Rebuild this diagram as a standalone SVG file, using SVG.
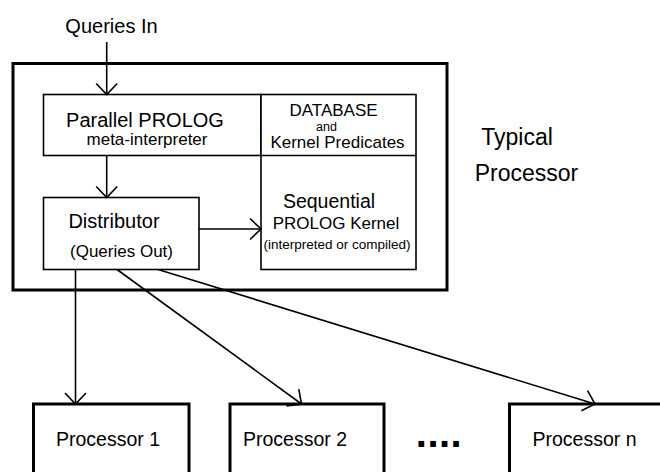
<svg xmlns="http://www.w3.org/2000/svg" width="660" height="472" viewBox="0 0 660 472">
  <style>
    text { font-family: "Liberation Sans", Arial, sans-serif; fill: #000; text-anchor: middle; }
    .box { fill: #fff; stroke: #000; stroke-width: 1.6; }
    .frame { fill: none; stroke: #000; stroke-width: 3; }
    .proc { fill: #fff; stroke: #000; stroke-width: 3; }
    .conn { fill: none; stroke: #000; stroke-width: 1.6; marker-end: url(#arrow); }
  </style>
  <defs>
    <marker id="arrow" markerUnits="userSpaceOnUse" markerWidth="24" markerHeight="24" viewBox="-13 -12 14 24" refX="0" refY="0" orient="auto">
      <path d="M-11,-10.5 L0,0 L-11,10.5" fill="none" stroke="#000" stroke-width="1.6"/>
    </marker>
  </defs>
  <rect width="660" height="472" fill="#fff"/>

  <text x="111.5" y="33" font-size="20">Queries In</text>

  <!-- typical processor frame -->
  <g id="typical-processor">
    <rect class="frame" x="13" y="63.5" width="434" height="226.5"/>
    <text x="517" y="145" font-size="23">Typical</text>
    <text x="526.5" y="180.5" font-size="23">Processor</text>
  </g>

  <g id="meta-interpreter">
    <rect class="box" x="43.5" y="94.5" width="217.5" height="61"/>
    <text x="145" y="126.5" font-size="20">Parallel PROLOG</text>
    <text x="147" y="145" font-size="17">meta-interpreter</text>
  </g>

  <g id="kernel">
    <rect class="box" x="261" y="94.5" width="155" height="175"/>
    <line x1="261" y1="155.5" x2="416" y2="155.5" stroke="#000" stroke-width="1.6"/>
    <text x="333.5" y="116" font-size="17">DATABASE</text>
    <text x="326.5" y="130.5" font-size="12.5">and</text>
    <text x="337.5" y="148" font-size="17">Kernel Predicates</text>
    <text x="329" y="208" font-size="19.5">Sequential</text>
    <text x="336" y="229" font-size="17">PROLOG Kernel</text>
    <text x="337" y="249" font-size="13.5">(interpreted or compiled)</text>
  </g>

  <g id="distributor">
    <rect class="box" x="43.5" y="197.5" width="155.5" height="72"/>
    <text x="114" y="227.5" font-size="20">Distributor</text>
    <text x="121.5" y="257" font-size="17">(Queries Out)</text>
  </g>

  <g id="processor-1">
    <rect class="proc" x="33.5" y="404" width="155.5" height="100"/>
    <text x="108" y="446" font-size="19.5">Processor 1</text>
  </g>
  <g id="processor-2">
    <rect class="proc" x="230" y="404" width="154" height="100"/>
    <text x="295" y="446" font-size="19.5">Processor 2</text>
  </g>
  <g id="ellipsis">
    <text x="439" y="446.5" font-size="40" font-weight="bold" letter-spacing="0.5">....</text>
  </g>
  <g id="processor-n">
    <rect class="proc" x="509.5" y="404" width="160" height="100"/>
    <text x="584.5" y="446" font-size="19.5">Processor n</text>
  </g>

  <g id="connectors">
    <line class="conn" x1="106.7" y1="42" x2="106.7" y2="94.5"/>
    <line class="conn" x1="106.7" y1="155.5" x2="106.7" y2="197.5"/>
    <line class="conn" x1="199" y1="229" x2="261" y2="229"/>
    <line class="conn" x1="75.5" y1="269.5" x2="75.5" y2="404"/>
    <line class="conn" x1="117" y1="269.5" x2="301.5" y2="404"/>
    <line class="conn" x1="158" y1="269.5" x2="595" y2="404"/>
  </g>
</svg>
